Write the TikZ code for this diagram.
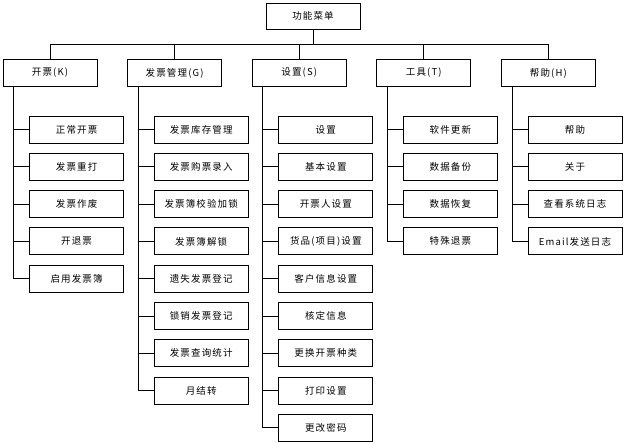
\documentclass[tikz,border=0pt]{standalone}
\usepackage{fontspec}
\setmainfont{Noto Sans CJK SC}
\newfontfamily\menufont[LetterSpace=12]{Noto Sans CJK SC}

\tikzset{
	menubox/.style={draw, line width=0.8pt, minimum width=94pt, minimum height=27pt, inner sep=0pt,
		font=\menufont\fontsize{9.5}{11}\selectfont},
	link/.style={line width=0.8pt}
}

% one column of sub menu items, hanging off the spine of its parent
\newcommand{\menucol}[3]{
	\coordinate (#1sp) at ([xshift=11pt]#1.south west);
	\foreach \item [count=\i] in {#3} {
		\pgfmathsetmacro{\mcY}{129.5+37.3*(\i-1)}
		\node[menubox] (#1\i) at (#2+26.6,\mcY) {\item};
		\draw[link] (#1sp) |- (#1\i.west);
	}
}

\begin{document}
\begin{tikzpicture}[x=1pt, y=-1pt]
\useasboundingbox (0,0) rectangle (624,443);

\pgfmathsetmacro{\mcK}{50}
\pgfmathsetmacro{\mcG}{174.6}
\pgfmathsetmacro{\mcS}{299.2}
\pgfmathsetmacro{\mcT}{423.8}
\pgfmathsetmacro{\mcH}{548.4}
\pgfmathsetmacro{\mcTop}{73}
\coordinate (bus) at (0,44);

\node[menubox, minimum height=26pt] (menu) at (313,16) {功能菜单};

\node[menubox] (K) at (\mcK,\mcTop) {开票(K)};
\node[menubox] (G) at (\mcG,\mcTop) {发票管理(G)};
\node[menubox] (S) at (\mcS,\mcTop) {设置(S)};
\node[menubox] (T) at (\mcT,\mcTop) {工具(T)};
\node[menubox] (H) at (\mcH,\mcTop) {帮助(H)};

\foreach \m in {K,G,S,T,H}
	\draw[link] (menu.south) -- (menu.south |- bus) -| (\m.north);

\menucol{K}{\mcK}{正常开票,发票重打,发票作废,开退票,启用发票簿}
\menucol{G}{\mcG}{发票库存管理,发票购票录入,发票簿校验加锁,发票簿解锁,遗失发票登记,锁销发票登记,发票查询统计,月结转}
\menucol{S}{\mcS}{设置,基本设置,开票人设置,货品(项目)设置,客户信息设置,核定信息,更换开票种类,打印设置,更改密码}
\menucol{T}{\mcT}{软件更新,数据备份,数据恢复,特殊退票}
\menucol{H}{\mcH}{帮助,关于,查看系统日志,Email发送日志}
\end{tikzpicture}
\end{document}
